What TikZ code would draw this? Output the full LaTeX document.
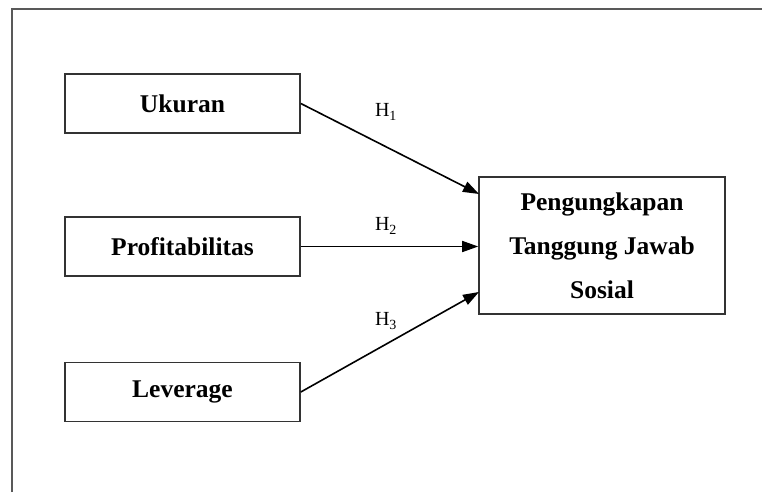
\documentclass[tikz,border=0pt]{standalone}
\usepackage{fontspec}
\setmainfont{Liberation Serif}
\usetikzlibrary{arrows.meta}
\begin{document}
\begin{tikzpicture}[x=1pt,y=-1pt,
  varbox/.style={draw=black!80, line width=1.6pt, minimum width=235pt, minimum height=59pt, inner sep=0pt, font=\fontsize{25.5}{30}\selectfont\bfseries},
  depbox/.style={draw=black!80, line width=1.6pt, minimum width=246pt, minimum height=137pt, inner sep=0pt, align=center, font=\fontsize{25.5}{44}\selectfont\bfseries},
  hlab/.style={font=\fontsize{20}{22}\selectfont, inner sep=0pt},
  conn/.style={line width=1.6pt, -{Triangle[length=16pt,width=11pt]}}]
\useasboundingbox (0,0) rectangle (762,492);
\fill[white] (0,0) rectangle (762,492);
\draw[black!65, line width=1.8pt] (12,492) -- (12,9) -- (762,9);
\node[varbox] (uk) at (182.5,103.5) {Ukuran};
\node[varbox] (pr) at (182.5,246.5) {Profitabilitas};
\node[varbox] (lv) at (182.5,392) {Leverage};
\node[depbox] (pt) at (602,245.5) {Pengungkapan\\Tanggung Jawab\\Sosial};
\coordinate (t1) at (479,194);
\coordinate (t3) at (479,292);
\draw[conn] (uk.east) -- (t1);
\draw[conn] (pr.east) -- (pr.east -| pt.west);
\draw[conn] (lv.east) -- (t3);
\node[hlab] (h1) at (386,112) {H\textsubscript{1}};
\node[hlab] (h2) at (386,226) {H\textsubscript{2}};
\node[hlab] (h3) at (386,321) {H\textsubscript{3}};
\end{tikzpicture}
\end{document}
